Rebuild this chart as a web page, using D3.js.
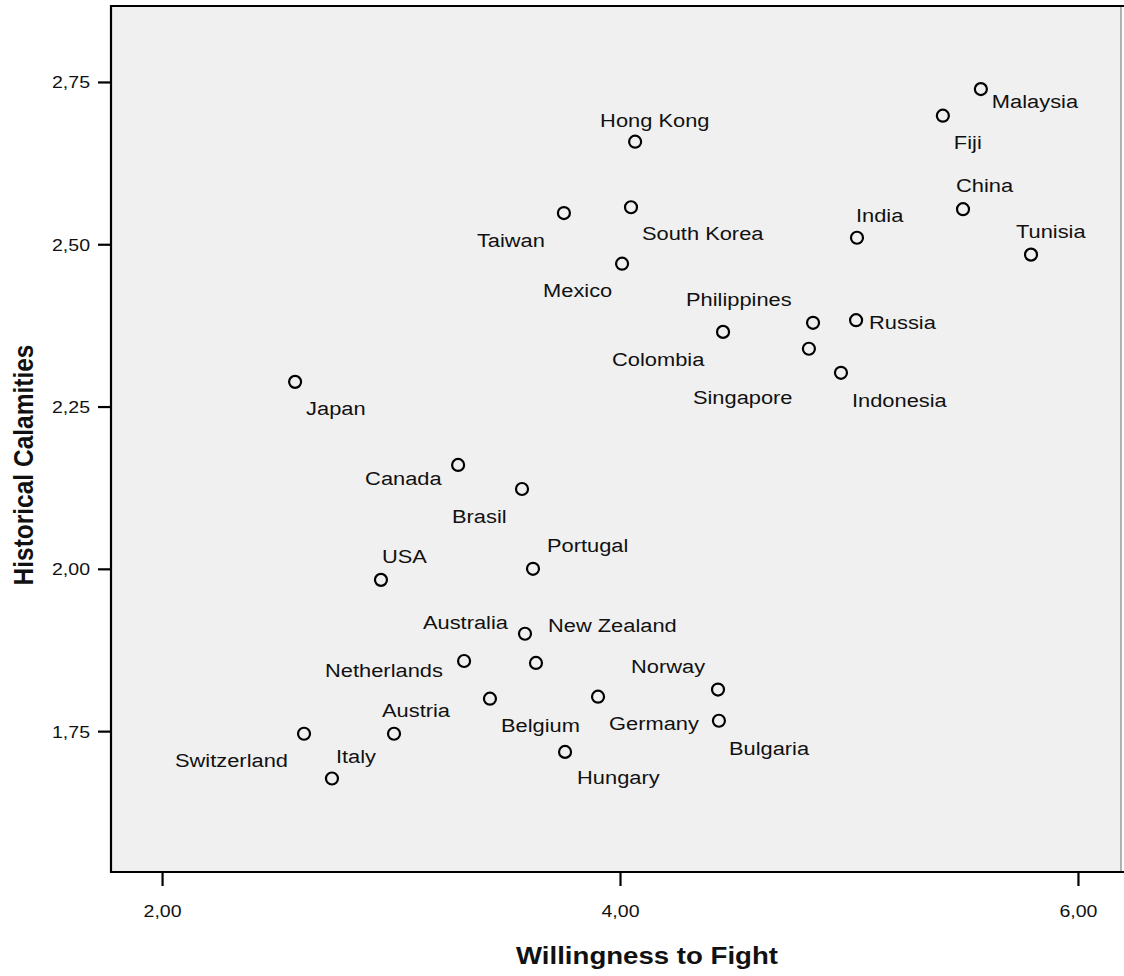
<!DOCTYPE html>
<html lang="en">
<head>
  <meta charset="utf-8">
  <title>Willingness to Fight vs Historical Calamities</title>
  <script src="https://d3js.org/d3.v7.min.js"></script>
  <style>
    body { margin: 0; background: #fff; }
  </style>
</head>
<body>
	<script type="text/javascript">

	// data
	var countries = ["Hong Kong", "Taiwan", "South Korea", "Mexico", "Malaysia", "Fiji", "China", "Tunisia",
		"India", "Colombia", "Philippines", "Russia", "Singapore", "Indonesia", "Japan", "Canada", "Brasil",
		"Portugal", "USA", "Switzerland", "Austria", "Italy", "Australia", "Netherlands", "New Zealand",
		"Belgium", "Germany", "Norway", "Bulgaria", "Hungary"];
	var willingness = [4.066, 3.755, 4.048, 4.009, 5.576, 5.410, 5.498, 5.795,
		5.035, 4.450, 4.843, 5.031, 4.825, 4.965, 2.581, 3.293, 3.572,
		3.620, 2.956, 2.620, 3.013, 2.742, 3.585, 3.319, 3.633,
		3.432, 3.904, 4.428, 4.432, 3.760];
	var calamities = [2.658, 2.548, 2.557, 2.470, 2.739, 2.698, 2.554, 2.484,
		2.510, 2.365, 2.379, 2.383, 2.339, 2.302, 2.288, 2.160, 2.123,
		2.000, 1.983, 1.746, 1.746, 1.677, 1.900, 1.858, 1.855,
		1.800, 1.803, 1.814, 1.766, 1.718];

	// where each label sits relative to its point (start of text, baseline)
	var labelDx = [-35, -87, 11, -79, 11, 11, -7, -15,
		-1, -111, -127, 13, -116, 11, 11, -93, -70,
		14, 1, -129, -12, 4, -102, -139, 12,
		11, 11, -87, 10, 12];
	var labelDy = [-15, 34, 33, 33, 19, 33, -17, -17,
		-16, 34, -17, 9, 55, 34, 33, 20, 34,
		-17, -17, 33, -17, -16, -5, 16, -31,
		33, 33, -17, 34, 32];

	var xTicks = [2, 4, 6];
	var yTicks = [1.75, 2.00, 2.25, 2.50, 2.75];
	var xTitle = "Willingness to Fight";
	var yTitle = "Historical Calamities";

	var svg_width = 1124;
	var svg_height = 976;
	var stretch = 1.15;   // text in the picture is a bit wide
	var font = "'Liberation Sans', Arial, sans-serif";

	var plotLeft = 111, plotRight = 1121, plotTop = 6, plotBottom = 872;

	var svg = d3.select("body")
				.append("svg")
				.attr("width", svg_width)
				.attr("height", svg_height);

	var xScale = d3.scaleLinear()
		.domain([1.777, 6.188])
		.range([plotLeft, plotRight]);

	var yScale = d3.scaleLinear()
		.domain([1.533, 2.867])
		.range([plotBottom, plotTop]);

	var fmt = d3.formatLocale({decimal: ",", thousands: ".", grouping: [3], currency: ["", ""]}).format(".2f");

	// plot background
	svg.append("rect")
		.attr("x", plotLeft)
		.attr("y", plotTop)
		.attr("width", plotRight - plotLeft)
		.attr("height", plotBottom - plotTop)
		.attr("fill", "#f0f0f0");

	svg.append("line")
		.attr("x1", plotRight).attr("x2", plotRight)
		.attr("y1", plotTop).attr("y2", plotBottom)
		.attr("stroke", "#9a9a9a")
		.attr("stroke-width", 1.5);

	svg.append("path")
		.attr("d", "M" + (plotRight + 3) + "," + plotTop + "H" + plotLeft + "V" + plotBottom + "H" + (plotRight + 3))
		.attr("fill", "none")
		.attr("stroke", "#000")
		.attr("stroke-width", 2.2);

	// x axis
	var xAxis = d3.axisBottom(xScale)
		.tickValues(xTicks)
		.tickSize(14)
		.tickFormat(fmt);

	var gx = svg.append("g")
		.attr("transform", "translate(0," + plotBottom + ")")
		.call(xAxis);
	gx.select(".domain").remove();
	gx.selectAll(".tick line").attr("stroke", "#000").attr("stroke-width", 2.2);
	gx.selectAll(".tick text")
		.attr("y", 0)
		.attr("dy", 0)
		.attr("transform", "translate(0,45) scale(" + stretch + ",1)")
		.attr("font-family", font)
		.attr("font-size", "17px")
		.attr("fill", "#111");

	// y axis
	var yAxis = d3.axisLeft(yScale)
		.tickValues(yTicks)
		.tickSize(13)
		.tickFormat(fmt);

	var gy = svg.append("g")
		.attr("transform", "translate(" + plotLeft + ",0)")
		.call(yAxis);
	gy.select(".domain").remove();
	gy.selectAll(".tick line").attr("stroke", "#000").attr("stroke-width", 2.2);
	gy.selectAll(".tick text")
		.attr("x", 0)
		.attr("dy", 0)
		.attr("transform", "translate(-21,6) scale(" + stretch + ",1)")
		.attr("font-family", font)
		.attr("font-size", "17px")
		.attr("fill", "#111");

	// axis titles
	svg.append("text")
		.text(xTitle)
		.attr("text-anchor", "middle")
		.attr("transform", "translate(647,964) scale(" + stretch + ",1)")
		.attr("font-family", font)
		.attr("font-weight", "bold")
		.attr("font-size", "24px")
		.attr("fill", "#111");

	svg.append("text")
		.text(yTitle)
		.attr("text-anchor", "middle")
		.attr("transform", "translate(33,465) scale(" + stretch + ",1) rotate(-90)")
		.attr("font-family", font)
		.attr("font-weight", "bold")
		.attr("font-size", "24.5px")
		.attr("fill", "#111");

	// points
	var idx = d3.range(countries.length);

	svg.selectAll("circle.pt")
		.data(idx)
		.enter()
			.append("circle")
			.attr("class", "pt")
			.attr("cx", function(i) { return xScale(willingness[i]); })
			.attr("cy", function(i) { return yScale(calamities[i]); })
			.attr("r", 6)
			.attr("fill", "none")
			.attr("stroke", "#000")
			.attr("stroke-width", 2.2);

	// labels
	svg.selectAll("text.lbl")
		.data(idx)
		.enter()
			.append("text")
			.attr("class", "lbl")
			.text(function(i) { return countries[i]; })
			.attr("transform", function(i) {
				var x = xScale(willingness[i]) + labelDx[i];
				var y = yScale(calamities[i]) + labelDy[i];
				return "translate(" + x + "," + y + ") scale(" + stretch + ",1)";
			})
			.attr("font-family", font)
			.attr("font-size", "19px")
			.attr("fill", "#111");

	</script>
</body>
</html>
